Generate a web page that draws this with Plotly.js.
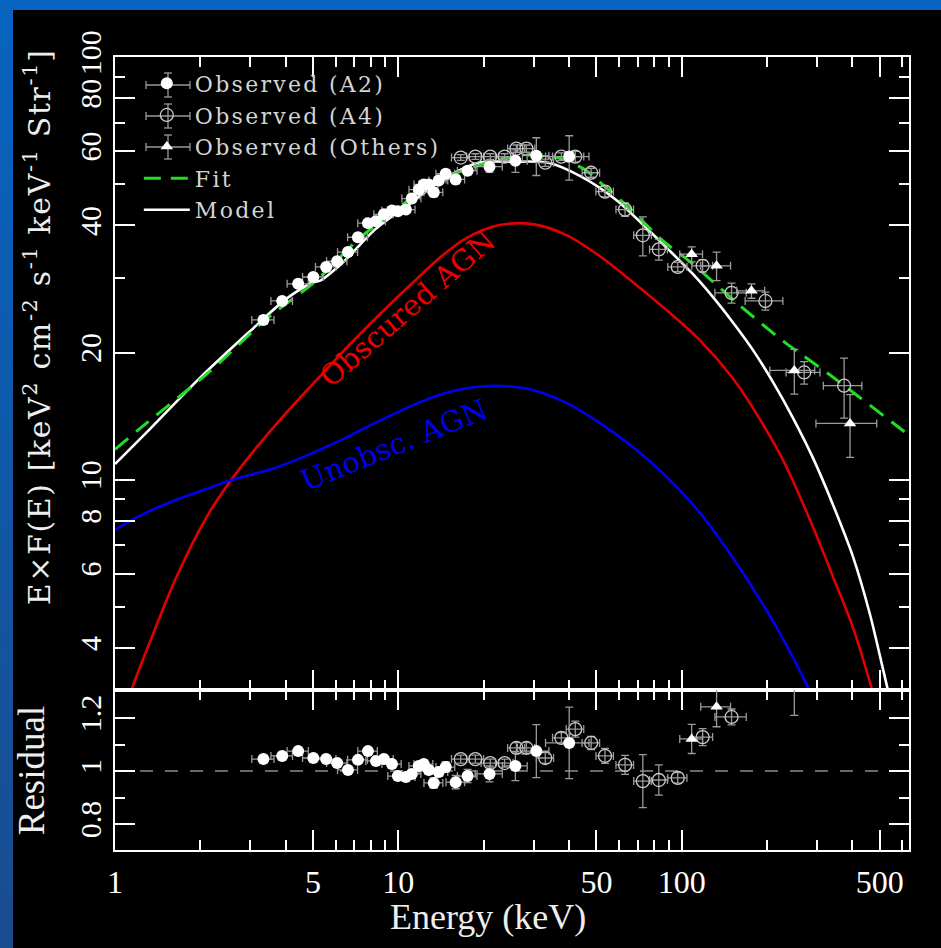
<!DOCTYPE html>
<html>
<head>
<meta charset="utf-8">
<script src="https://cdn.plot.ly/plotly-3.0.1.min.js"></script>
<style>
  html, body { margin:0; padding:0; width:941px; height:948px; overflow:hidden;
    background: linear-gradient(to bottom, #0764c0, #1a4c8e); }
  #bg { position:absolute; left:13px; top:10px; width:928px; height:938px; background:#000; }
  #plot { position:absolute; left:0; top:0; width:941px; height:948px; }
  .legendtext { letter-spacing: 2.3px; }
  #plot g.annotation[data-index="0"] text { letter-spacing: 1.6px; }
</style>
</head>
<body>
<div id="bg"></div>
<div id="plot"></div>
<script>
// ---------------- data ----------------
// Observed (A2): energy (keV), E*F(E), errors, residual
const a2E  = [3.34, 3.89, 4.43, 5.01, 5.56, 6.08, 6.64, 7.20, 7.81, 8.34, 8.89, 9.49, 9.96, 10.63, 11.15, 11.8, 12.29, 12.80, 13.33, 13.88, 14.69, 15.93, 17.55, 20.97, 25.88, 30.68, 40.07];
const a2F  = [23.9, 26.5, 29.1, 30.2, 31.9, 32.9, 34.6, 37.5, 40.5, 40.9, 42.5, 43.4, 43.2, 43.6, 46.3, 48.6, 50.0, 50.0, 47.9, 51.1, 53.0, 51.4, 53.9, 55.1, 56.9, 58.5, 58.2];
const a2dE = [0.30, 0.34, 0.38, 0.42, 0.46, 0.50, 0.54, 0.58, 0.62, 0.66, 0.70, 0.74, 0.78, 0.82, 0.86, 0.90, 0.94, 0.98, 1.02, 1.06, 1.12, 1.2, 1.4, 2.3, 2.6, 3.3, 7.0];
const a2dF = [0.5, 0.5, 0.6, 0.6, 0.6, 0.7, 0.7, 0.8, 0.8, 0.8, 0.9, 0.9, 0.9, 0.9, 1.0, 1.0, 1.0, 1.0, 1.2, 1.1, 1.2, 1.3, 1.3, 1.7, 3.5, 6.0, 7.0];
const a2R  = [1.045, 1.057, 1.075, 1.049, 1.045, 1.030, 1.004, 1.042, 1.075, 1.038, 1.045, 1.026, 0.981, 0.977, 0.989, 1.019, 1.026, 1.004, 0.955, 0.996, 1.015, 0.958, 0.981, 0.989, 1.019, 1.075, 1.106];
const a2dR = [0.01, 0.01, 0.01, 0.01, 0.01, 0.01, 0.01, 0.012, 0.012, 0.012, 0.012, 0.012, 0.012, 0.012, 0.014, 0.014, 0.015, 0.015, 0.02, 0.016, 0.02, 0.025, 0.025, 0.03, 0.055, 0.10, 0.135];

// Observed (A4)
const a4E  = [16.6, 18.7, 21.1, 23.7, 26.1, 28.3, 33.0, 37.6, 42.1, 47.9, 53.6, 63.1, 72.9, 83.0, 96.8, 118.5, 149.9, 197.4, 270.5, 374.1];
const a4F  = [57.9, 58.2, 58.2, 58.2, 60.8, 60.8, 56.3, 58.2, 58.2, 53.3, 48.1, 43.6, 37.9, 35.1, 31.9, 32.1, 27.7, 26.5, 17.95, 16.7];
const a4dE = [1.2, 1.3, 1.5, 1.7, 1.8, 2.0, 2.3, 2.6, 3.0, 3.4, 3.8, 4.5, 5.2, 6.0, 7.5, 10, 19, 30, 37, 58];
const a4dF = [0.9, 0.9, 0.9, 0.9, 1.2, 1.2, 1.1, 1.2, 1.7, 1.3, 1.4, 1.6, 4.0, 2.0, 0.8, 1.1, 1.5, 1.3, 1.1, 2.7];
const a4R  = [1.045, 1.045, 1.030, 1.030, 1.087, 1.087, 1.049, 1.125, 1.158, 1.106, 1.057, 1.023, 0.962, 0.966, 0.974, 1.128, 1.204, 1.38, 1.55, 2.0];
const a4dR = [0.015, 0.015, 0.015, 0.015, 0.02, 0.02, 0.02, 0.02, 0.03, 0.025, 0.028, 0.036, 0.10, 0.057, 0.02, 0.032, 0.03, 0.05, 0.06, 0.2];

// Observed (Others)
const otE  = [108.4, 132.7, 176.2, 249.6, 392.6];
const otF  = [34.2, 32.1, 28.0, 18.15, 13.6];
const otdE = [10, 16, 20, 45, 95];
const otdF = [1.4, 2.5, 1.1, 2.2, 2.3];
const otR  = [1.121, 1.242, 1.42, 1.50, 3.0];
const otdR = [0.055, 0.075, 0.06, 0.29, 0.6];

// Fit (green dashed)
const fitE = [1.0, 1.22, 2.16, 3.42, 5.13, 7.26, 10.0, 13.1, 17.3, 22.5, 29.5, 36.6, 45.6, 53.6, 66.2, 84.4, 107.6, 161, 230, 334, 584, 620];
const fitF = [11.8, 13.2, 18.05, 24.0, 29.6, 37.2, 44.0, 50.5, 54.2, 57.2, 58.8, 57.8, 54.2, 49.4, 43.6, 37.1, 32.7, 25.8, 21.2, 17.7, 13.3, 12.9];

// Model (white)
const modE = [1.0, 1.33, 1.99, 2.98, 4.02, 4.97, 5.3, 6.18, 6.7, 8.3, 11.1, 14.7, 19.2, 25.1, 33.8, 44.2, 58.9, 75.2, 88.5, 109.4, 128.7, 151.4, 178.2, 209.7, 246.8, 290.4, 341.7, 402.0, 461.7, 509.0, 543.3, 560];
const modF = [10.9, 13.2, 17.4, 22.4, 26.8, 29.3, 29.6, 32.1, 33.8, 39.2, 45.3, 51.9, 56.3, 56.6, 56.3, 52.2, 45.9, 39.4, 35.4, 30.7, 27.1, 23.6, 20.3, 17.05, 14.02, 11.27, 8.73, 6.58, 4.80, 3.65, 3.02, 2.75];

// Obscured AGN (red)
const obsE = [1.102, 1.139, 1.351, 1.643, 2.097, 2.528, 3.149, 4.02, 5.39, 6.71, 9.29, 11.21, 13.96, 17.39, 22.75, 29.75, 39.2, 51.3, 67.1, 88.5, 115.8, 151.4, 178.2, 227.5, 283.4, 341.7, 402.0, 469.3, 484.8];
const obsF = [2.89, 3.153, 4.254, 5.866, 8.13, 9.84, 11.9, 14.4, 17.81, 20.85, 25.93, 29.22, 33.48, 37.34, 40.07, 40.29, 37.95, 33.85, 29.4, 25.2, 21.4, 17.4, 14.8, 11.15, 8.04, 5.90, 4.47, 3.19, 2.94];

// Unobscured AGN (blue)
const unoE = [1.0, 1.246, 1.643, 2.063, 2.528, 3.098, 3.707, 4.36, 5.13, 6.19, 7.28, 8.57, 10.08, 11.86, 14.31, 16.83, 19.81, 22.75, 29.75, 39.2, 51.3, 67.1, 88.5, 115.8, 151.4, 199.7, 240.8, 283.4, 294.5];
const unoF = [7.62, 8.27, 8.97, 9.47, 9.95, 10.33, 10.70, 11.15, 11.68, 12.36, 13.06, 13.79, 14.52, 15.25, 15.97, 16.41, 16.63, 16.68, 16.32, 15.21, 13.64, 11.97, 10.16, 8.36, 6.54, 4.90, 3.92, 3.153, 2.99];

// ticks
const xMajor = [1, 5, 10, 50, 100, 500];
const xMinor = [2, 3, 4, 6, 7, 8, 9, 20, 30, 40, 60, 70, 80, 90, 200, 300, 400, 600];
const yMajor = [4, 6, 8, 10, 20, 40, 60, 80, 100];
const yMinor = [5, 7, 9, 30, 50, 70, 90];
const rMajor = [0.8, 1, 1.2];
const rMinor = [0.9, 1.1];

// ---------------- styling ----------------
const SERIF = 'Liberation Serif, serif';
const WIDE = 'DejaVu Serif, serif';
const ERR = '#9a9a9a';

function errs(arr) { return {type:'data', array:arr, color:ERR, thickness:1.3, width:4}; }

const traces = [
  {x:obsE, y:obsF, mode:'lines', line:{color:'#e00000', width:2.6, shape:'spline', smoothing:1.0}, showlegend:false, xaxis:'x', yaxis:'y', hoverinfo:'skip'},
  {x:unoE, y:unoF, mode:'lines', line:{color:'#0000f0', width:2.6, shape:'spline', smoothing:1.0}, showlegend:false, xaxis:'x', yaxis:'y', hoverinfo:'skip'},
  {x:modE, y:modF, mode:'lines', name:'Model', legendrank:5, line:{color:'#ffffff', width:2.6, shape:'spline', smoothing:0.8}, xaxis:'x', yaxis:'y'},
  {x:fitE, y:fitF, mode:'lines', name:'Fit', legendrank:4, line:{color:'#22dd22', width:3, dash:'17px,10px', shape:'spline', smoothing:0.8}, xaxis:'x', yaxis:'y'},
  {x:a4E, y:a4F, mode:'markers', name:'Observed (A4)', legendrank:2, marker:{symbol:'circle-open', size:13, color:'#c8c8c8', line:{width:1.3, color:'#c8c8c8'}},
   error_x:errs(a4dE), error_y:errs(a4dF), xaxis:'x', yaxis:'y'},
  {x:otE, y:otF, mode:'markers', name:'Observed (Others)', legendrank:3, marker:{symbol:'triangle-up', size:11, color:'#ffffff'},
   error_x:errs(otdE), error_y:errs(otdF), xaxis:'x', yaxis:'y'},
  {x:a2E, y:a2F, mode:'markers', name:'Observed (A2)', legendrank:1, marker:{symbol:'circle', size:12, color:'#ffffff'},
   error_x:errs(a2dE), error_y:errs(a2dF), xaxis:'x', yaxis:'y'},
  // residual panel
  {x:a4E, y:a4R, mode:'markers', showlegend:false, marker:{symbol:'circle-open', size:13, color:'#c8c8c8', line:{width:1.3, color:'#c8c8c8'}},
   error_x:errs(a4dE), error_y:errs(a4dR), xaxis:'x2', yaxis:'y2'},
  {x:otE, y:otR, mode:'markers', showlegend:false, marker:{symbol:'triangle-up', size:11, color:'#ffffff'},
   error_x:errs(otdE), error_y:errs(otdR), xaxis:'x2', yaxis:'y2'},
  {x:a2E, y:a2R, mode:'markers', showlegend:false, marker:{symbol:'circle', size:12, color:'#ffffff'},
   error_x:errs(a2dE), error_y:errs(a2dR), xaxis:'x2', yaxis:'y2'}
];

const W = 941, H = 948, ML = 115, MR = 32, MT = 57, MB = 98;
const PW = W - ML - MR, PH = H - MT - MB;
const px = v => (v - ML) / PW;          // page pixel -> paper x
const py = v => (H - MB - v) / PH;      // page pixel -> paper y

// error-bar crosses behind the three legend symbols (legend decoration)
const legendShapes = [];
[85, 116, 147].forEach(cy => {
  const cx = 168, hx = 22, hy = 12, cap = 4;
  const st = {color:ERR, width:1.3};
  legendShapes.push(
    {type:'line', xref:'paper', yref:'paper', x0:px(cx-hx), x1:px(cx+hx), y0:py(cy), y1:py(cy), line:st},
    {type:'line', xref:'paper', yref:'paper', x0:px(cx), x1:px(cx), y0:py(cy-hy), y1:py(cy+hy), line:st},
    {type:'line', xref:'paper', yref:'paper', x0:px(cx-hx), x1:px(cx-hx), y0:py(cy-cap), y1:py(cy+cap), line:st},
    {type:'line', xref:'paper', yref:'paper', x0:px(cx+hx), x1:px(cx+hx), y0:py(cy-cap), y1:py(cy+cap), line:st},
    {type:'line', xref:'paper', yref:'paper', x0:px(cx-cap), x1:px(cx+cap), y0:py(cy-hy), y1:py(cy-hy), line:st},
    {type:'line', xref:'paper', yref:'paper', x0:px(cx-cap), x1:px(cx+cap), y0:py(cy+hy), y1:py(cy+hy), line:st}
  );
});

const split = 0.2018;
const axBase = {showgrid:false, zeroline:false, showline:true, linecolor:'#ffffff', linewidth:2,
  ticks:'inside', ticklen:20, tickwidth:2, tickcolor:'#ffffff', mirror:'ticks',
  tickfont:{family:SERIF, size:30, color:'#ffffff'}};

const layout = {
  width:W, height:H,
  margin:{l:ML, r:MR, t:MT, b:MB},
  paper_bgcolor:'rgba(0,0,0,0)', plot_bgcolor:'#000000',
  showlegend:true,
  legend:{x:0.03, y:0.993, xanchor:'left', yanchor:'top', bgcolor:'rgba(0,0,0,0)',
    font:{family:WIDE, size:22, color:'#d4d4d4'}, itemwidth:46, tracegroupgap:0, traceorder:'normal'},
  xaxis: Object.assign({}, axBase, {type:'log', range:[0, 2.802], domain:[0,1], anchor:'y',
    tickmode:'array', tickvals:xMajor, showticklabels:false,
    minor:{tickmode:'array', tickvals:xMinor, ticklen:10, tickwidth:2, tickcolor:'#ffffff', ticks:'inside'}}),
  yaxis: Object.assign({}, axBase, {type:'log', range:[0.5027, 2.0006], domain:[split,1], anchor:'x',
    tickmode:'array', tickvals:yMajor, ticktext:yMajor.map(String), tickangle:-90,
    minor:{tickmode:'array', tickvals:yMinor, ticklen:10, tickwidth:2, tickcolor:'#ffffff', ticks:'inside'}}),
  xaxis2: Object.assign({}, axBase, {type:'log', range:[0, 2.802], domain:[0,1], anchor:'y2',
    tickmode:'array', tickvals:xMajor, ticktext:xMajor.map(String), ticklabelstandoff:3,
    tickfont:{family:SERIF, size:32, color:'#ffffff'},
    minor:{tickmode:'array', tickvals:xMinor, ticklen:10, tickwidth:2, tickcolor:'#ffffff', ticks:'inside'}}),
  yaxis2: Object.assign({}, axBase, {range:[0.702, 1.3057], domain:[0,split], anchor:'x2',
    tickmode:'array', tickvals:rMajor, ticktext:['0.8','1','1.2'], tickangle:-90,
    minor:{tickmode:'array', tickvals:rMinor, ticklen:10, tickwidth:2, tickcolor:'#ffffff', ticks:'inside'}}),
  shapes:[
    {type:'line', xref:'x2 domain', x0:0, x1:1, yref:'y2', y0:1, y1:1, line:{color:'#8a8a8a', width:1.5, dash:'13px,12px'}, layer:'below'}
  ].concat(legendShapes),
  annotations:[
    {xref:'paper', yref:'paper', x:-0.0982, y:0.6595, text:'E×F(E) [keV<sup>2</sup> cm<sup>-2</sup> s<sup>-1</sup> keV<sup>-1</sup> Str<sup>-1</sup>]',
     textangle:-90, showarrow:false, xanchor:'center', yanchor:'middle', font:{family:WIDE, size:30, color:'#eeeeee'}},
    {xref:'paper', yref:'paper', x:-0.1055, y:0.0996, text:'Residual', textangle:-90, showarrow:false,
     xanchor:'center', yanchor:'middle', font:{family:SERIF, size:37, color:'#eeeeee'}},
    {xref:'paper', yref:'paper', x:0.47, y:-0.085, text:'Energy (keV)', showarrow:false,
     xanchor:'center', yanchor:'middle', font:{family:SERIF, size:36, color:'#eeeeee'}},
    {xref:'x', yref:'y', x:1.03, y:1.405, text:'Obscured AGN', textangle:-41, showarrow:false,
     font:{family:WIDE, size:29, color:'#ee0000'}},
    {xref:'x', yref:'y', x:0.985, y:1.083, text:'Unobsc. AGN', textangle:-22, showarrow:false,
     font:{family:WIDE, size:29, color:'#0000ee'}}
  ]
};

Plotly.newPlot('plot', traces, layout, {staticPlot:true, displayModeBar:false});
</script>
</body>
</html>
